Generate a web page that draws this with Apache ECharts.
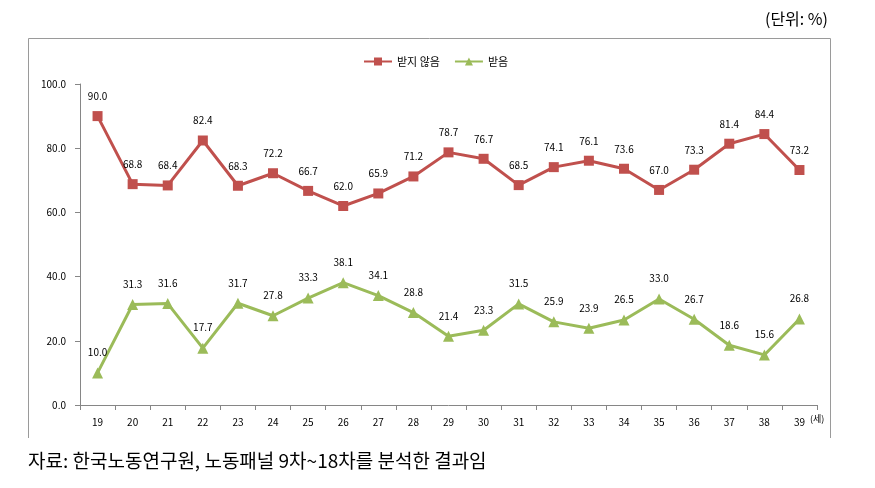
<!DOCTYPE html>
<html><head><meta charset="utf-8">
<script src="https://cdn.jsdelivr.net/npm/echarts@6/dist/echarts.min.js"></script>
<style>html,body{margin:0;padding:0;background:#fff}#c{width:875px;height:488px}</style>
</head><body><div id="c"></div>
<script>
var ages = ['19','20','21','22','23','24','25','26','27','28','29','30','31','32','33','34','35','36','37','38','39'];
var notReceived = [90.0,68.8,68.4,82.4,68.3,72.2,66.7,62.0,65.9,71.2,78.7,76.7,68.5,74.1,76.1,73.6,67.0,73.3,81.4,84.4,73.2];
var received = [10.0,31.3,31.6,17.7,31.7,27.8,33.3,38.1,34.1,28.8,21.4,23.3,31.5,25.9,23.9,26.5,33.0,26.7,18.6,15.6,26.8];
var yTicks = [0,20,40,60,80,100];

var chart = echarts.init(document.getElementById('c'));
var font = '"Noto Sans CJK KR", "Noto Sans", sans-serif';
chart.setOption({
  animation:false,
  textStyle:{fontFamily:font},
  legend:{top:51,left:358,itemWidth:28,itemHeight:10,itemGap:14,
    textStyle:{fontSize:11,color:'#000',fontFamily:font},
    data:['받지 않음','받음']},
  grid:{left:80,right:58,top:84,bottom:83,containLabel:false},
  xAxis:{type:'category',data:ages,boundaryGap:true,
    axisLine:{lineStyle:{color:'#868686'}},
    axisTick:{show:true,length:5,lineStyle:{color:'#868686'}},
    axisLabel:{fontSize:10,color:'#000',margin:12,fontFamily:font}},
  yAxis:{type:'value',min:0,max:100,interval:20,
    axisLine:{show:true,lineStyle:{color:'#868686'}},
    axisTick:{show:true,length:5,lineStyle:{color:'#868686'}},
    splitLine:{show:false},
    axisLabel:{fontSize:10,color:'#000',margin:14,fontFamily:font,formatter:function(v){return v.toFixed(1);}}},
  graphic:[
    {type:'polyline',shape:{points:[[28.5,438],[28.5,38.5],[830.5,38.5],[830.5,438]]},style:{stroke:'#9a9a9a',lineWidth:1,fill:null}},
    {type:'text',right:47,top:11,style:{text:'(단위: %)',font:'16px '+font,fill:'#000'}},
    {type:'text',left:810,top:414,style:{text:'(세)',font:'9px '+font,fill:'#000'}},
    {type:'text',left:28,top:451,style:{text:'자료: 한국노동연구원, 노동패널 9차~18차를 분석한 결과임',font:'19px '+font,fill:'#000'}}
  ],
  series:[
    {name:'받지 않음',type:'line',data:notReceived,symbol:'rect',symbolSize:10,
      lineStyle:{color:'#C0504D',width:3},itemStyle:{color:'#C0504D'},
      label:{show:true,position:'top',distance:10,fontSize:10,color:'#000',formatter:function(p){return p.value.toFixed(1);}}},
    {name:'받음',type:'line',data:received,symbol:'triangle',symbolSize:11,
      lineStyle:{color:'#9BBB59',width:3},itemStyle:{color:'#9BBB59'},
      label:{show:true,position:'top',distance:10,fontSize:10,color:'#000',formatter:function(p){return p.value.toFixed(1);}}}
  ]
});
</script></body></html>
